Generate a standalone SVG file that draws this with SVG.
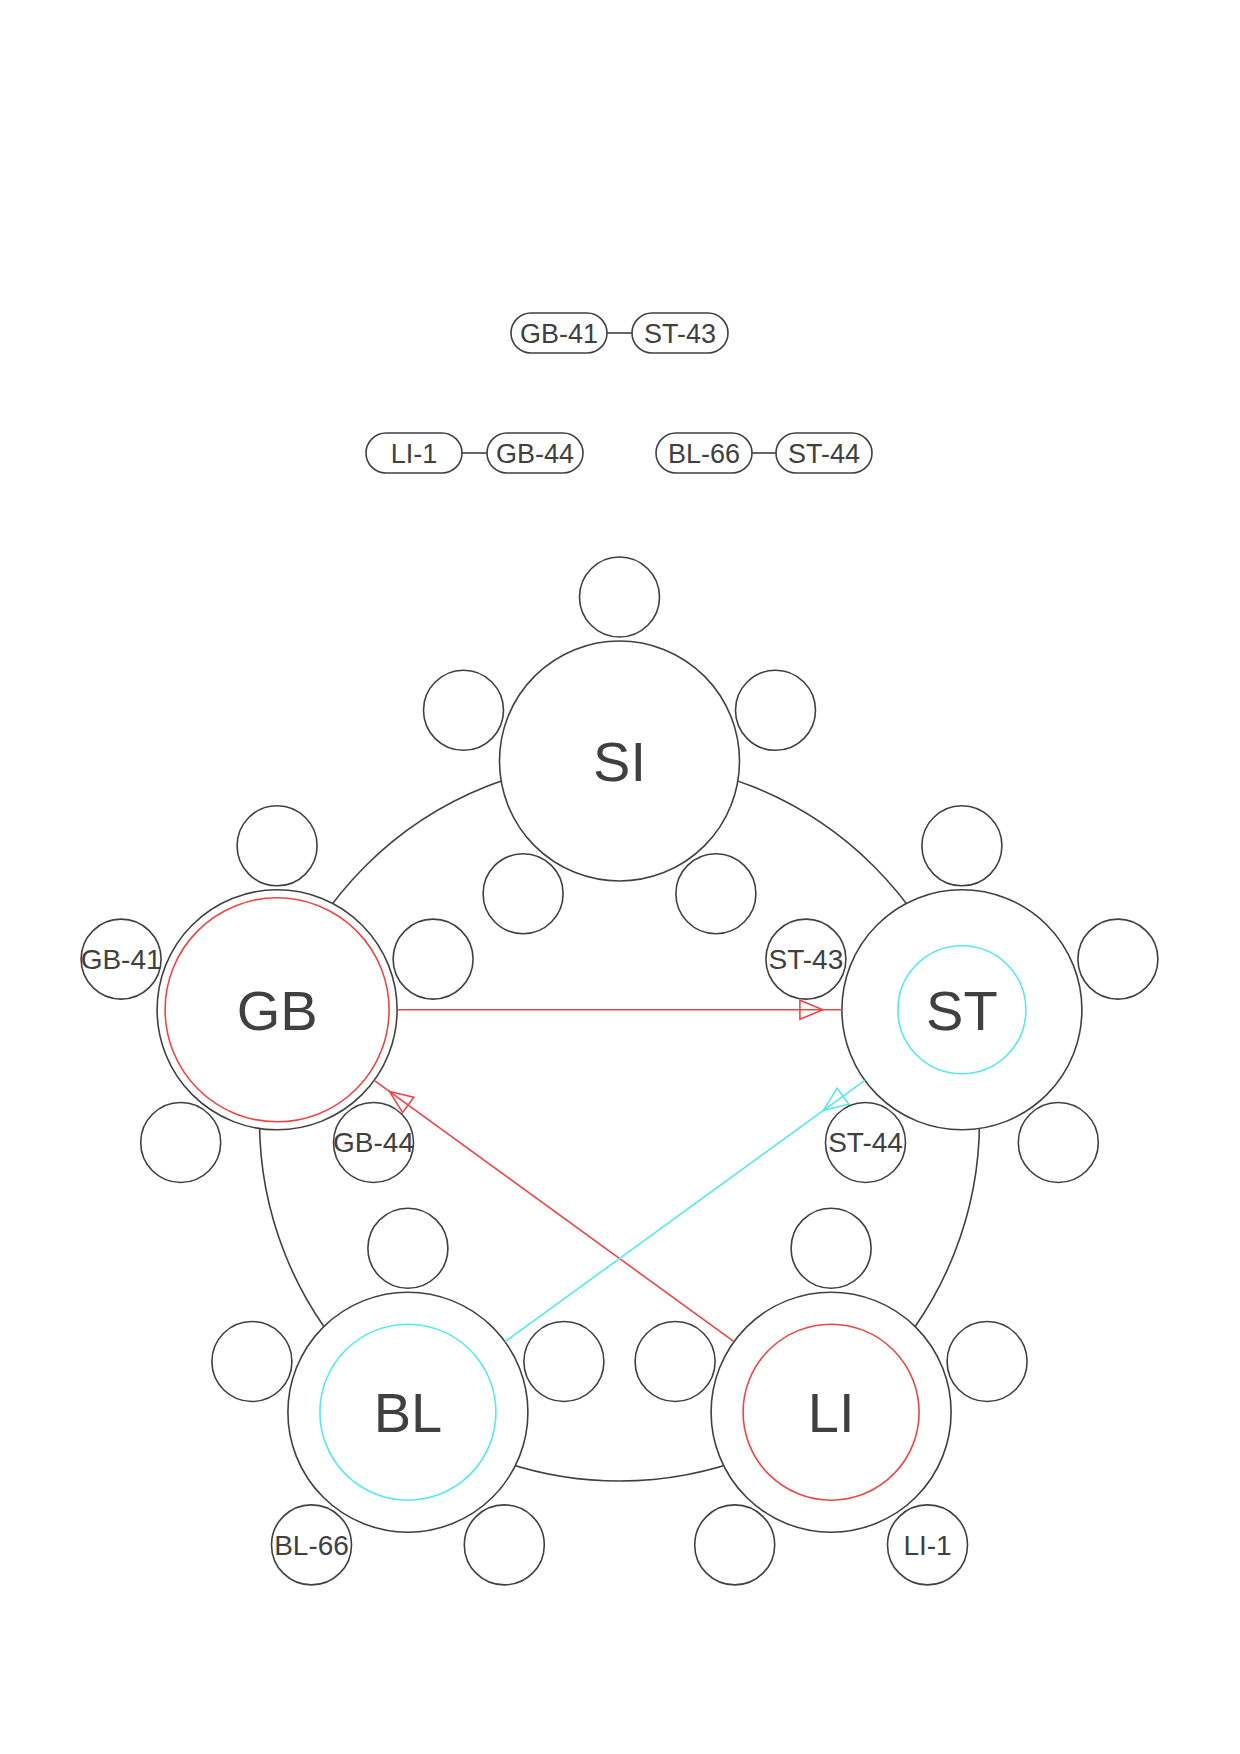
<svg xmlns="http://www.w3.org/2000/svg" width="1240" height="1754" viewBox="0 0 1240 1754">
<defs>
<style>
.bg{fill:#ffffff}
.ring{fill:none;stroke:#404040;stroke-width:1.6}
.node{fill:#ffffff;stroke:#404040;stroke-width:1.6}
.sat{fill:#ffffff;stroke:#404040;stroke-width:1.6}
.pill{fill:#ffffff;stroke:#404040;stroke-width:1.6}
.link{stroke:#404040;stroke-width:1.6}
.red{fill:none;stroke:#ee4444;stroke-width:1.6}
.cyan{fill:none;stroke:#55e8f0;stroke-width:1.6}
.big{font-family:"Liberation Sans",Arial,sans-serif;font-size:56px;fill:#404040;text-anchor:middle}
.lbl{font-family:"Liberation Sans",Arial,sans-serif;font-size:28px;fill:#404040;text-anchor:middle}
.plbl{font-family:"Liberation Sans",Arial,sans-serif;font-size:27px;fill:#404040;text-anchor:middle}
</style>
<marker id="arrRed" markerUnits="userSpaceOnUse" markerWidth="60" markerHeight="30" refX="42" refY="10" orient="auto" overflow="visible">
<path d="M0,0.5 L23,10 L0,19.5 Z" fill="none" stroke="#ee4444" stroke-width="1.6"/>
</marker>
<marker id="arrCyan" markerUnits="userSpaceOnUse" markerWidth="60" markerHeight="30" refX="51" refY="10" orient="auto" overflow="visible">
<path d="M24,0 L0,10 L24,20 Z" fill="none" stroke="#55e8f0" stroke-width="1.6"/>
</marker>
<g id="sats">
<circle class="sat" cx="0" cy="-164" r="40"/>
<circle class="sat" cx="156" cy="-50.7" r="40"/>
<circle class="sat" cx="96.4" cy="132.7" r="40"/>
<circle class="sat" cx="-96.4" cy="132.7" r="40"/>
<circle class="sat" cx="-156" cy="-50.7" r="40"/>
</g>
</defs>
<rect class="bg" x="0" y="0" width="1240" height="1754"/>

<g id="legend">
<g id="pair-gb41-st43">
<line class="link" x1="607" y1="333" x2="632" y2="333"/>
<rect class="pill" x="511" y="313" width="96" height="40" rx="20"/>
<text class="plbl" x="559" y="342.5">GB-41</text>
<rect class="pill" x="632" y="313" width="96" height="40" rx="20"/>
<text class="plbl" x="680" y="342.5">ST-43</text>
</g>
<g id="pair-li1-gb44">
<line class="link" x1="462" y1="453" x2="487" y2="453"/>
<rect class="pill" x="366" y="433" width="96" height="40" rx="20"/>
<text class="plbl" x="414" y="462.5">LI-1</text>
<rect class="pill" x="487" y="433" width="96" height="40" rx="20"/>
<text class="plbl" x="535" y="462.5">GB-44</text>
</g>
<g id="pair-bl66-st44">
<line class="link" x1="752" y1="453" x2="776" y2="453"/>
<rect class="pill" x="656" y="433" width="96" height="40" rx="20"/>
<text class="plbl" x="704" y="462.5">BL-66</text>
<rect class="pill" x="776" y="433" width="96" height="40" rx="20"/>
<text class="plbl" x="824" y="462.5">ST-44</text>
</g>
</g>

<circle id="ring" class="ring" cx="619.5" cy="1121" r="360"/>

<g id="node-SI">
<use href="#sats" x="619.5" y="761"/>
<circle class="node" cx="619.5" cy="761" r="120"/>
<text class="big" x="619.5" y="781">SI</text>
</g>

<g id="node-GB">
<use href="#sats" x="277.1" y="1009.8"/>
<circle class="node" cx="277.1" cy="1009.8" r="120"/>
<circle class="red" cx="277.1" cy="1009.8" r="112"/>
<text class="big" x="277.1" y="1030">GB</text>
<text class="lbl" x="121.1" y="969">GB-41</text>
<text class="lbl" x="373.5" y="1152">GB-44</text>
</g>

<g id="node-ST">
<use href="#sats" x="961.9" y="1009.8"/>
<circle class="node" cx="961.9" cy="1009.8" r="120"/>
<circle class="cyan" cx="961.9" cy="1009.8" r="64"/>
<text class="big" x="961.9" y="1030">ST</text>
<text class="lbl" x="805.9" y="969">ST-43</text>
<text class="lbl" x="865.5" y="1152">ST-44</text>
</g>

<g id="node-BL">
<use href="#sats" x="407.9" y="1412.2"/>
<circle class="node" cx="407.9" cy="1412.2" r="120"/>
<circle class="cyan" cx="407.9" cy="1412.2" r="88"/>
<text class="big" x="407.9" y="1432">BL</text>
<text class="lbl" x="311.5" y="1555">BL-66</text>
</g>

<g id="node-LI">
<use href="#sats" x="831.1" y="1412.2"/>
<circle class="node" cx="831.1" cy="1412.2" r="120"/>
<circle class="red" cx="831.1" cy="1412.2" r="88"/>
<text class="big" x="831.1" y="1432">LI</text>
<text class="lbl" x="927.5" y="1555">LI-1</text>
</g>

<g id="connectors">
<line class="red" x1="397.1" y1="1009.8" x2="841.9" y2="1009.8" marker-end="url(#arrRed)"/>
<line class="red" x1="734" y1="1341.7" x2="374.2" y2="1080.3" marker-end="url(#arrRed)"/>
<line class="cyan" x1="505" y1="1341.7" x2="864.8" y2="1080.3" marker-end="url(#arrCyan)"/>
</g>
</svg>
